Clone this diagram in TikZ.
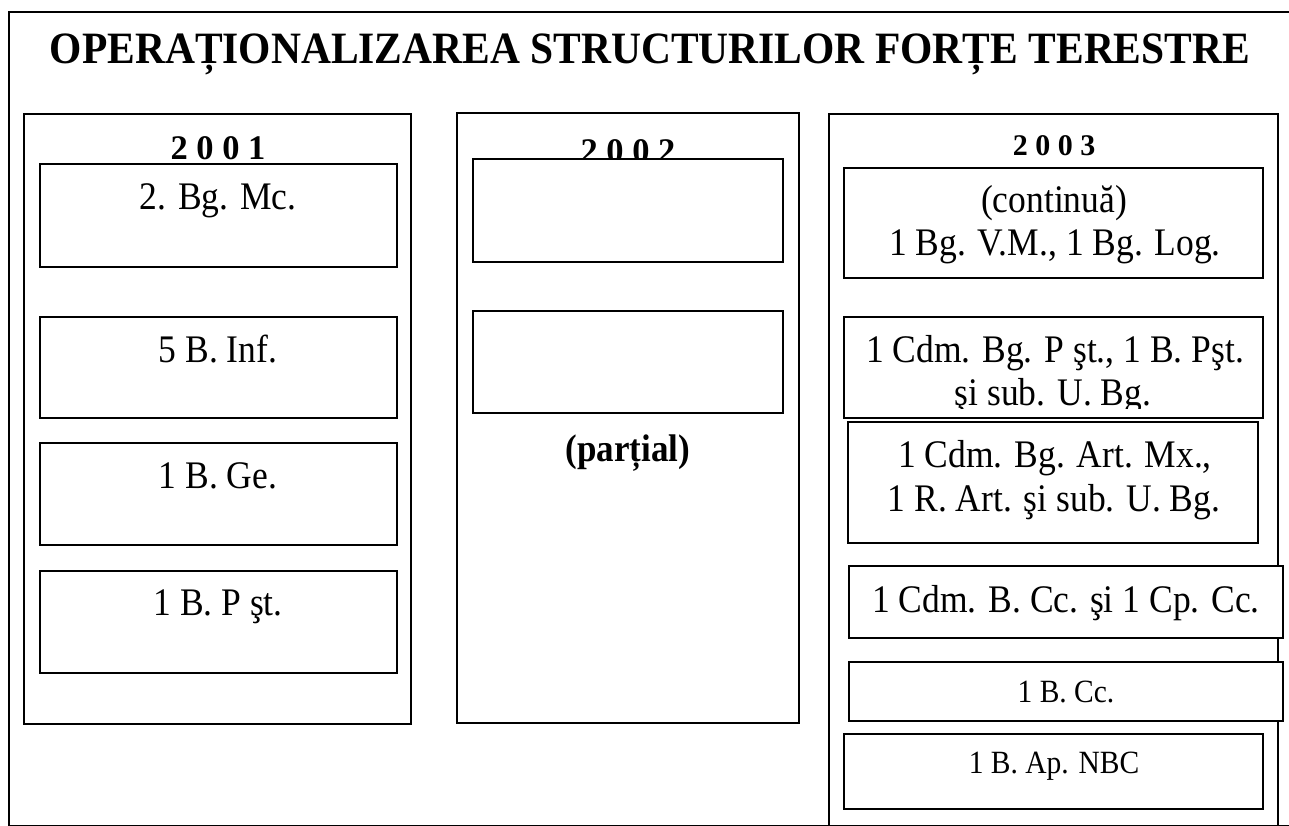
\documentclass[tikz,border=0pt]{standalone}
\usepackage{fontspec}
\setmainfont{Liberation Serif}
\usetikzlibrary{fit}
% body text is set a little taller than the font's natural shape
\newcommand{\tallword}[1]{\scalebox{1}[1.1]{#1}}
\begin{document}
\begin{tikzpicture}[x=1pt,y=-1pt,
  frame/.style={draw=black, line width=1.8pt, fill=white, inner sep=0pt},
  unitbox/.style={draw=black, line width=1.6pt, fill=white, inner sep=0pt},
  lbl/.style={anchor=base, inner sep=0pt, font=\fontsize{35.5}{42}\selectfont},
  lblsmall/.style={anchor=base, inner sep=0pt, font=\fontsize{29.5}{36}\selectfont},
  year/.style={anchor=base, inner sep=0pt, font=\bfseries\fontsize{34.5}{40}\selectfont},
  yearsmall/.style={anchor=base, inner sep=0pt, font=\bfseries\fontsize{30}{36}\selectfont}]
\useasboundingbox (0,0) rectangle (1289,825);
\clip (0,0) rectangle (1289,825);

% title
\node[anchor=base, inner sep=0pt, font=\bfseries\fontsize{41.5}{48}\selectfont]
  (title) at (650,63) {\scalebox{1}[1.08]{OPERAȚIONALIZAREA STRUCTURILOR FORȚE TERESTRE}};

% year columns
\node[frame, fit={(24,114) (411,724)}] (col2001) {};
\node[frame, fit={(457,113) (799,723)}] (col2002) {};
\node[frame, fit={(829,114) (1278,850)}] (col2003) {};

% outer frame, running past the page on the right and bottom
\node[draw=black, line width=1.8pt, inner sep=0pt, fit={(9,12) (1310,826)}] (outer) {};

% column 2001
\node[year] (y2001) at (218,159) {2 0 0 1};
\node[unitbox, fit={(40,164) (397,267)}] (a1) {};
\node[unitbox, fit={(40,317) (397,418)}] (a2) {};
\node[unitbox, fit={(40,443) (397,545)}] (a3) {};
\node[unitbox, fit={(40,571) (397,673)}] (a4) {};
\node[lbl] (ta1) at (218,209) {\tallword{2. Bg. Mc.}};
\node[lbl] (ta2) at (218,362) {\tallword{5 B. Inf.}};
\node[lbl] (ta3) at (218,488) {\tallword{1 B. Ge.}};
\node[lbl] (ta4) at (218,615) {\tallword{1 B. P şt.}};

% column 2002
\node[year] (y2002) at (628,162) {2 0 0 2};
\node[unitbox, fit={(473,159) (783,262)}] (b1) {};
\node[unitbox, fit={(473,311) (783,413)}] (b2) {};
\node[anchor=base, inner sep=0pt, font=\bfseries\fontsize{35}{42}\selectfont]
  (partial) at (628,461) {\tallword{(parțial)}};

% column 2003
\node[yearsmall] (y2003) at (1054,155) {2 0 0 3};
\node[unitbox, fit={(844,168) (1263,278)}] (c1) {};
\node[unitbox, fit={(844,317) (1263,418)}] (c2) {};
\node[unitbox, fit={(848,422) (1258,543)}] (c3) {};
\node[unitbox, fit={(849,566) (1283,638)}] (c4) {};
\node[unitbox, fit={(849,662) (1283,721)}] (c5) {};
\node[unitbox, fit={(844,734) (1263,809)}] (c6) {};

\node[lbl] (tc1a) at (1054,212) {\tallword{(continuă)}};
\node[lbl] (tc1b) at (1055,255) {\tallword{1 Bg. V.M., 1 Bg. Log.}};
\begin{scope}
  \clip (844,317) rectangle (1263,408);
  \node[lbl] (tc2a) at (1055,362) {\tallword{1 Cdm. Bg. P şt., 1 B. Pşt.}};
  \node[lbl] (tc2b) at (1053,405) {\tallword{şi sub. U. Bg.}};
\end{scope}
\node[lbl] (tc3a) at (1055,467) {\tallword{1 Cdm. Bg. Art. Mx.,}};
\node[lbl] (tc3b) at (1054,511) {\tallword{1 R. Art. şi sub. U. Bg.}};
\node[lbl] (tc4) at (1066,612) {\tallword{1 Cdm. B. Cc. şi 1 Cp. Cc.}};
\node[lblsmall] (tc5) at (1066,702) {\tallword{1 B. Cc.}};
\node[lblsmall] (tc6) at (1054,773) {\tallword{1 B. Ap. NBC}};
\end{tikzpicture}
\end{document}
